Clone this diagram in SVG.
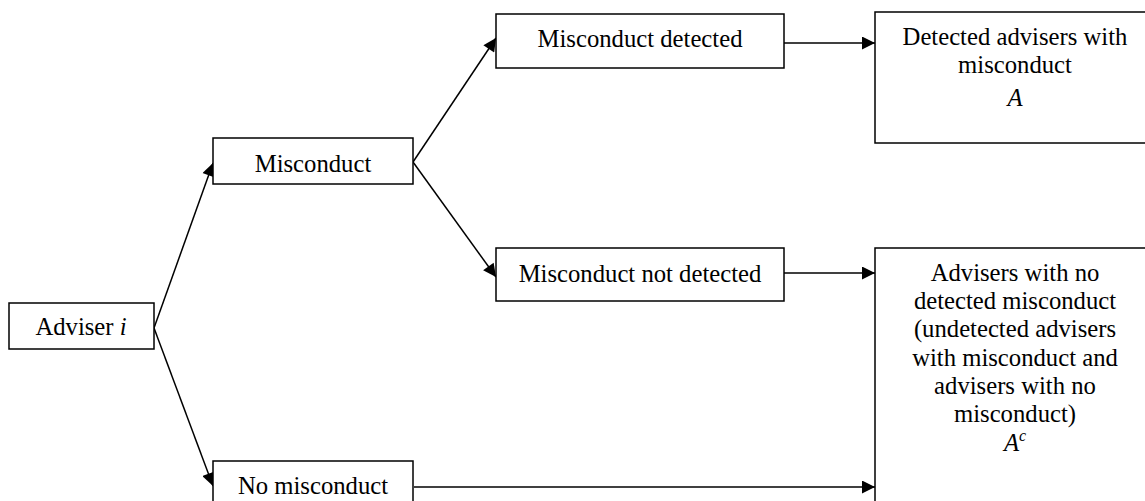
<svg xmlns="http://www.w3.org/2000/svg" width="1145" height="501" viewBox="0 0 1145 501">
<style>
.box{fill:#fff;stroke:#000;stroke-width:1.5}
.t{font-size:24.7px;fill:#000;text-anchor:middle}
.m{font-style:italic}
.c{stroke:#000;stroke-width:1.5;fill:none;marker-end:url(#ah)}
</style>
<defs>
<marker id="ah" viewBox="0 0 10 10" refX="10" refY="5" markerWidth="14" markerHeight="13" markerUnits="userSpaceOnUse" orient="auto">
<path d="M0,0 L10,5 L0,10 Z" fill="#000"/>
</marker>
</defs>
<rect width="1145" height="501" fill="#fff"/>
<g id="connectors">
<line class="c" x1="154" y1="328" x2="213" y2="163"/>
<line class="c" x1="154" y1="328" x2="213" y2="486"/>
<line class="c" x1="413" y1="162" x2="496" y2="38"/>
<line class="c" x1="413" y1="162" x2="496" y2="277"/>
<line class="c" x1="784" y1="43" x2="875" y2="43"/>
<line class="c" x1="784" y1="273" x2="875" y2="273"/>
<line class="c" x1="414" y1="487" x2="875" y2="487"/>
</g>
<g font-family="Liberation Serif, serif">
<g id="adviser">
<rect class="box" x="9" y="303" width="145" height="46"/>
<text class="t" x="81" y="335">Adviser <tspan class="m">i</tspan></text>
</g>
<g id="misconduct">
<rect class="box" x="213" y="138" width="200" height="46"/>
<text class="t" x="313" y="172">Misconduct</text>
</g>
<g id="no-misconduct">
<rect class="box" x="213" y="461" width="200" height="50"/>
<text class="t" x="313" y="494">No misconduct</text>
</g>
<g id="detected">
<rect class="box" x="496" y="14" width="288" height="54"/>
<text class="t" x="640" y="47">Misconduct detected</text>
</g>
<g id="not-detected">
<rect class="box" x="496" y="248" width="288" height="53"/>
<text class="t" x="640" y="282">Misconduct not detected</text>
</g>
<g id="set-a">
<rect class="box" x="875" y="12" width="280" height="131"/>
<text class="t" x="1015" y="45">Detected advisers with</text>
<text class="t" x="1015" y="73">misconduct</text>
<text class="t m" x="1015" y="106">A</text>
</g>
<g id="set-ac">
<rect class="box" x="875" y="248" width="280" height="270"/>
<text class="t" x="1015" y="281">Advisers with no</text>
<text class="t" x="1015" y="309">detected misconduct</text>
<text class="t" x="1015" y="337">(undetected advisers</text>
<text class="t" x="1015" y="366">with misconduct and</text>
<text class="t" x="1015" y="394">advisers with no</text>
<text class="t" x="1015" y="422">misconduct)</text>
<text class="t m" x="1015" y="451">A<tspan font-size="16" dy="-10">c</tspan></text>
</g>
</g>
</svg>
